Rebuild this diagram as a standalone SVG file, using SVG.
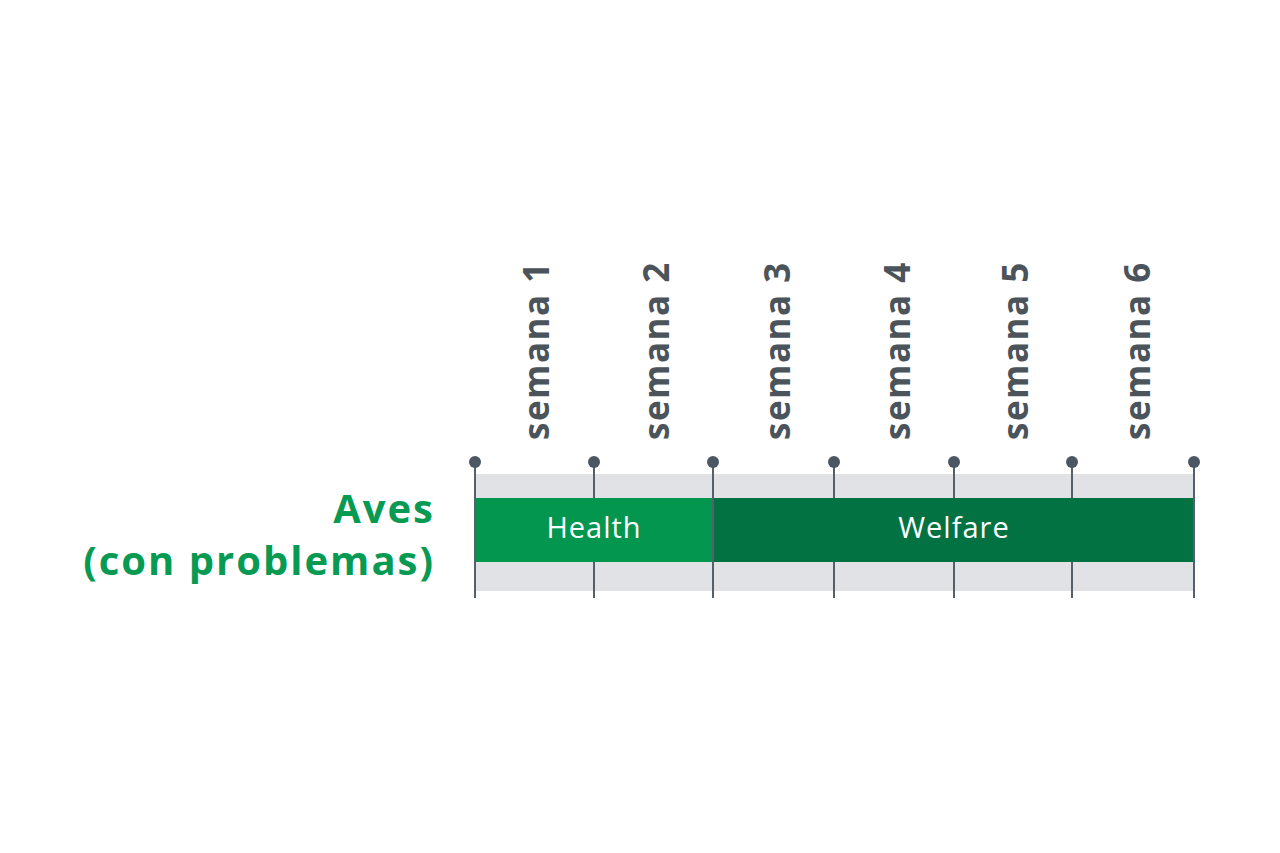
<svg xmlns="http://www.w3.org/2000/svg" width="1280" height="853" viewBox="0 0 1280 853">
<style>
.wk{font-family:"Open Sans","Liberation Sans",sans-serif;font-weight:700;font-size:35px;letter-spacing:1.5px;fill:#4b545a;text-anchor:start}
.tick{stroke:#55606a;stroke-width:2}
.dot{fill:#4b5863}
.bar{font-family:"Open Sans","Liberation Sans",sans-serif;font-size:29px;letter-spacing:1px;fill:#fff;text-anchor:middle}
.lab{font-family:"Open Sans","Liberation Sans",sans-serif;font-weight:700;font-size:40px;letter-spacing:2px;fill:#079a53;text-anchor:end}
</style>
<rect width="1280" height="853" fill="#fff"/>
<g id="band"><rect x="475" y="474" width="719" height="117" fill="#e0e2e6"/></g>
<g id="ticks">
<line class="tick" x1="475" y1="462" x2="475" y2="598"/><circle class="dot" cx="475" cy="462" r="6"/>
<line class="tick" x1="594" y1="462" x2="594" y2="598"/><circle class="dot" cx="594" cy="462" r="6"/>
<line class="tick" x1="713" y1="462" x2="713" y2="598"/><circle class="dot" cx="713" cy="462" r="6"/>
<line class="tick" x1="834" y1="462" x2="834" y2="598"/><circle class="dot" cx="834" cy="462" r="6"/>
<line class="tick" x1="954" y1="462" x2="954" y2="598"/><circle class="dot" cx="954" cy="462" r="6"/>
<line class="tick" x1="1072" y1="462" x2="1072" y2="598"/><circle class="dot" cx="1072" cy="462" r="6"/>
<line class="tick" x1="1194" y1="462" x2="1194" y2="598"/><circle class="dot" cx="1194" cy="462" r="6"/>
</g>
<g id="health"><rect x="476" y="498" width="236" height="64" fill="#03964f"/><text class="bar" x="594" y="538">Health</text></g>
<g id="welfare"><rect x="714" y="498" width="479" height="64" fill="#037243"/><text class="bar" x="954" y="538">Welfare</text></g>
<g id="weeks">
<text class="wk" transform="translate(549,440) rotate(-90)">semana 1</text>
<text class="wk" transform="translate(669,440) rotate(-90)">semana 2</text>
<text class="wk" transform="translate(790,440) rotate(-90)">semana 3</text>
<text class="wk" transform="translate(910,440) rotate(-90)">semana 4</text>
<text class="wk" transform="translate(1028,440) rotate(-90)">semana 5</text>
<text class="wk" transform="translate(1150,440) rotate(-90)">semana 6</text>
</g>
<g id="label">
<text class="lab" x="435" y="523">Aves</text>
<text class="lab" x="435" y="575">(con problemas)</text>
</g>
</svg>
